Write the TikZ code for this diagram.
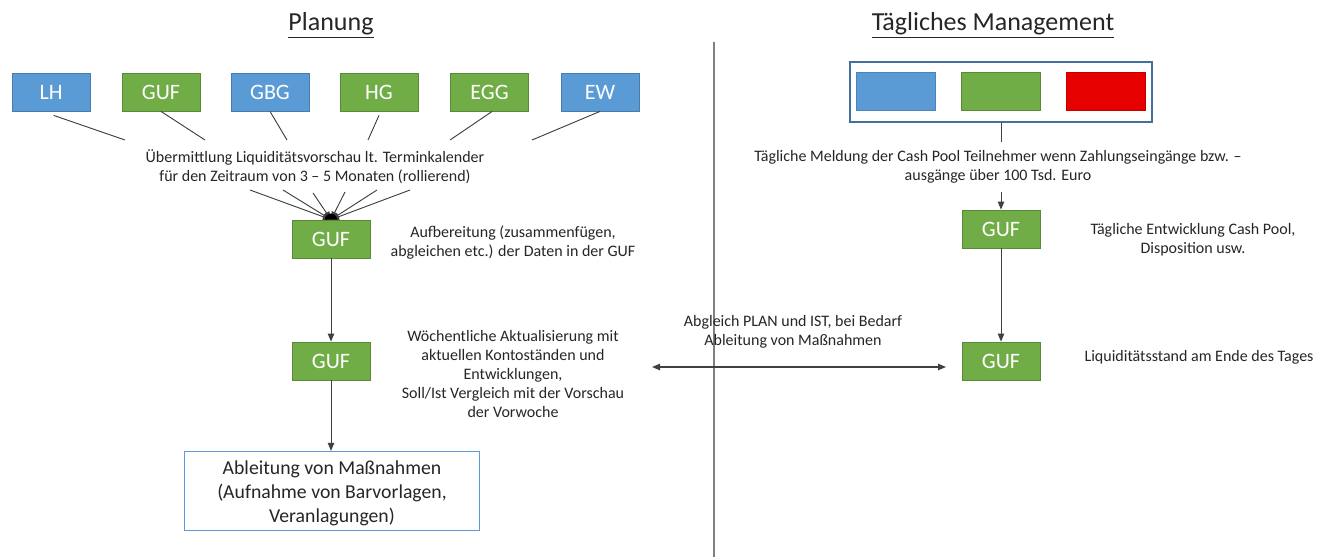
\documentclass[tikz,border=0pt]{standalone}
\usepackage{fontspec}
\setmainfont{Carlito}
\usetikzlibrary{arrows.meta}
\definecolor{cblue}{HTML}{5B9BD5}
\definecolor{cbluedk}{HTML}{41719C}
\definecolor{cgreen}{HTML}{70AD47}
\definecolor{cred}{HTML}{E60000}
\definecolor{cline}{HTML}{404040}
\definecolor{ctext}{HTML}{262626}
\tikzset{
  px/.style={x=0.75pt,y=-0.75pt},
  ent/.style={draw=#1!80!black, fill=#1, line width=0.6pt, minimum width=58.5pt, minimum height=28.5pt, inner sep=0pt,
    text=white, font=\fontsize{16.5}{18}\selectfont},
  lbl/.style={align=center, text=ctext, font=\fontsize{12}{14.25}\selectfont, inner sep=1pt},
  ttl/.style={text=ctext, font=\fontsize{19.5}{22}\selectfont},
  conn/.style={draw=cline, line width=0.7pt},
  arr/.style={conn, -{Triangle[length=6pt,width=4.8pt]}},
  darr/.style={conn, line width=0.9pt, {Triangle[length=6pt,width=4.8pt]}-{Triangle[length=6pt,width=4.8pt]}},
}
\begin{document}
\begin{tikzpicture}[px]
\useasboundingbox[fill=white] (0,0) rectangle (1317,557);

% titles
\node[ttl] (tplan) at (331,25) {\underline{Planung}};
\node[ttl] (tman) at (993,25) {\underline{Tägliches Management}};

% divider
\coordinate (dtop) at (714,42);
\coordinate (dbot) at (714,557);
\draw[draw=gray, line width=0.8pt] (dtop) -- (dbot);

% top entity boxes
\node[ent=cblue]  (lh)  at (51,92)    {LH};
\node[ent=cgreen] (guf) at (161,92)   {GUF};
\node[ent=cblue]  (gbg) at (270,92)   {GBG};
\node[ent=cgreen] (hg)  at (379,92)   {HG};
\node[ent=cgreen] (egg) at (489.5,92) {EGG};
\node[ent=cblue]  (ew)  at (600,92)   {EW};

% text Übermittlung
\node[lbl] (tueb) at (315,167) {Übermittlung Liquiditätsvorschau lt. Terminkalender\\für den Zeitraum von 3 – 5 Monaten (rollierend)};

% lines from boxes to text
\coordinate (e1) at (125,140);
\coordinate (e2) at (205,140);
\coordinate (e3) at (287,140);
\coordinate (e4) at (368,140);
\coordinate (e5) at (450,140);
\coordinate (e6) at (532,140);
\draw[conn] ([xshift=2pt,yshift=-3pt]lh.south) -- (e1);
\draw[conn] (guf.south) -- (e2);
\draw[conn] (gbg.south) -- (e3);
\draw[conn] ([yshift=-3pt]hg.south) -- (e4);
\draw[conn] ([xshift=2pt]egg.south) -- (e5);
\draw[conn] (ew.south) -- (e6);

% GUF 1
\node[ent=cgreen] (g1) at (331,239) {GUF};
\coordinate (f1) at (250,190);
\coordinate (f2) at (283,190);
\coordinate (f3) at (313,193);
\coordinate (f4) at (345,192);
\coordinate (f5) at (377,190);
\coordinate (f6) at (410,190);
\foreach \f in {f1,f2,f3,f4,f5,f6} \draw[arr] (\f) -- (g1.north);
\fill[black] (g1.north) ++(-6,0) arc[start angle=180,end angle=0,radius=4.5pt] -- cycle;

\node[lbl] (taufb) at (513,243) {Aufbereitung (zusammenfügen,\\abgleichen etc.) der Daten in der GUF};

% GUF 2
\node[ent=cgreen] (g2) at (331,361) {GUF};
\draw[arr] (g1) -- (g2);
\node[lbl] (twoch) at (513,374) {Wöchentliche Aktualisierung mit\\aktuellen Kontoständen und\\Entwicklungen,\\Soll/Ist Vergleich mit der Vorschau\\der Vorwoche};

% Ableitung box
\node[draw=cblue, line width=1pt, minimum width=221.25pt, minimum height=58.5pt, align=center, text=ctext,
  font=\fontsize{14.8}{18}\selectfont] (abl) at (332,491) {\rule{0pt}{14pt}Ableitung von Maßnahmen\\(Aufnahme von Barvorlagen,\\Veranlagungen)};
\draw[arr] (g2.south) -- (g2.south |- abl.north);

% right side
\node[draw=cbluedk, line width=1.5pt, minimum width=226.5pt, minimum height=45pt, inner sep=0pt] (pool) at (1001,92) {};
\node[ent=cblue, minimum width=59.25pt, draw=cblue!85!black] (pb) at (896,91) {};
\node[ent=cgreen, minimum width=59.25pt] (pg) at (1000.5,91) {};
\node[ent=cred, minimum width=59.25pt, draw=cred!85!black] (pr) at (1105.5,91) {};

\coordinate (m1) at (1001,142);
\draw[conn] (pool.south) -- (m1);
\node[lbl] (tmeld) at (998,167) {Tägliche Meldung der Cash Pool Teilnehmer wenn Zahlungseingänge bzw. –\\ausgänge über 100 Tsd. Euro};

\node[ent=cgreen] (g3) at (1001,229) {GUF};
\coordinate (m2) at (1001,192);
\draw[arr] (m2) -- (g3.north);
\node[lbl] (tentw) at (1193,240) {Tägliche Entwicklung Cash Pool,\\Disposition usw.};

\node[ent=cgreen] (g4) at (1001,361) {GUF};
\draw[arr] (g3) -- (g4);
\node[lbl, anchor=west] (tliq) at (1083,357) {Liquiditätsstand am Ende des Tages};

% double arrow
\coordinate (dl) at (652,367);
\coordinate (dr) at (946,367);
\draw[darr] (dl) -- (dr);
\node[lbl] (tabgl) at (793,332) {Abgleich PLAN und IST, bei Bedarf\\Ableitung von Maßnahmen};
\end{tikzpicture}
\end{document}
